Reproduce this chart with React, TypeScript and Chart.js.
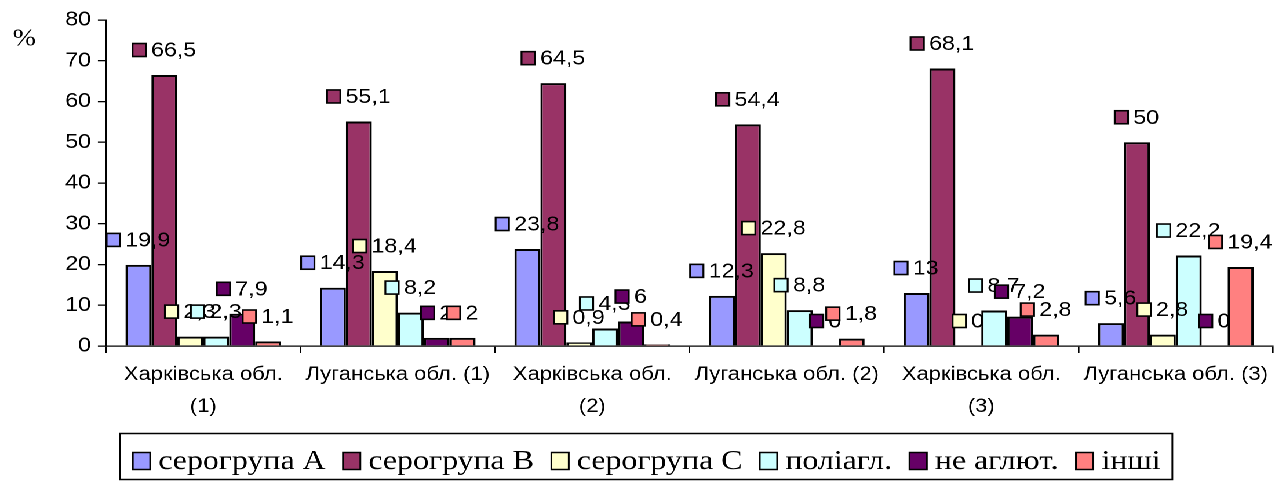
import React, { useEffect, useRef } from "react";
import { Chart, registerables } from "chart.js";

Chart.register(...registerables);

// ---- data ----
const categories: (string | string[])[] = [
  ["Харківська обл.", "(1)"],
  "Луганська обл. (1)",
  ["Харківська обл.", "(2)"],
  "Луганська обл. (2)",
  ["Харківська обл.", "(3)"],
  "Луганська обл. (3)",
];
const seriesNames = ["серогрупа А", "серогрупа В", "серогрупа С", "поліагл.", "не аглют.", "інші"];
const serogroupA = [19.9, 14.3, 23.8, 12.3, 13, 5.6];
const serogroupB = [66.5, 55.1, 64.5, 54.4, 68.1, 50];
const serogroupC = [2.3, 18.4, 0.9, 22.8, 0, 2.8];
const polyAggl = [2.3, 8.2, 4.3, 8.8, 8.7, 22.2];
const nonAggl = [7.9, 2, 6, 0, 7.2, 0];
const others = [1.1, 2, 0.4, 1.8, 2.8, 19.4];
const yTicks = [0, 10, 20, 30, 40, 50, 60, 70, 80];
const yUnit = "%";

// ---- styles ----
const colors = ["#9999FF", "#993366", "#FFFFCC", "#CCFFFF", "#660066", "#FF8080"];
const SANS = "'Liberation Sans', Arial, sans-serif";
const SERIF = "'Liberation Serif', 'Times New Roman', serif";
const BASE_W = 1100;
const STRETCH = 1275 / BASE_W;
const H = 482;

const fmt = (v: number) => String(v).replace(".", ",");

const valueLabels = {
  id: "valueLabels",
  afterDatasetsDraw(chart: any) {
    const ctx = chart.ctx;
    ctx.save();
    ctx.font = `20px ${SANS}`;
    ctx.textBaseline = "middle";
    ctx.textAlign = "left";
    const KW = 11.5, KH = 13, GAP = 4.5, LIFT = 25;
    chart.data.datasets.forEach((ds: any, di: number) => {
      const meta = chart.getDatasetMeta(di);
      meta.data.forEach((bar: any, i: number) => {
        const text = fmt(ds.data[i]);
        const tw = ctx.measureText(text).width;
        const total = KW + GAP + tw;
        const left = bar.x - total / 2;
        const cy = bar.y - LIFT;
        ctx.fillStyle = ds.backgroundColor;
        ctx.fillRect(left, cy - KH / 2, KW, KH);
        ctx.lineWidth = 1.6;
        ctx.strokeStyle = "#000";
        ctx.strokeRect(left, cy - KH / 2, KW, KH);
        ctx.fillStyle = "#000";
        ctx.fillText(text, left + KW + GAP, cy + 1);
      });
    });
    ctx.restore();
  },
};

const boxLegend = {
  id: "boxLegend",
  afterDraw(chart: any) {
    const ctx = chart.ctx;
    ctx.save();
    ctx.font = `27.5px ${SERIF}`;
    ctx.textBaseline = "middle";
    ctx.textAlign = "left";
    const SW = 15, SH = 17, SG = 7, IG = 15;
    const items = chart.data.datasets.map((ds: any) => ({
      text: ds.label,
      color: ds.backgroundColor,
      w: ctx.measureText(ds.label).width,
    }));
    const total =
      items.reduce((s: number, it: any) => s + SW + SG + it.w, 0) + IG * (items.length - 1);
    const center = 558;
    let x = center - total / 2;
    const cy = 461;
    const boxL = x - 11;
    const boxR = x + total + 10;
    ctx.lineWidth = 1.5;
    ctx.strokeStyle = "#000";
    ctx.strokeRect(boxL, 433.5, boxR - boxL, 46);
    items.forEach((it: any) => {
      ctx.fillStyle = it.color;
      ctx.fillRect(x, cy - SH / 2, SW, SH);
      ctx.lineWidth = 1.5;
      ctx.strokeRect(x, cy - SH / 2, SW, SH);
      ctx.fillStyle = "#000";
      ctx.fillText(it.text, x + SW + SG, cy + 1);
      x += SW + SG + it.w + IG;
    });
    // unit label
    ctx.font = `24px ${SERIF}`;
    ctx.textAlign = "center";
    ctx.fillText(yUnit, 21, 39);
    ctx.restore();
  },
};

export default function App() {
  const ref = useRef<HTMLCanvasElement | null>(null);
  useEffect(() => {
    if (!ref.current) return;
    const seriesData = [serogroupA, serogroupB, serogroupC, polyAggl, nonAggl, others];
    const chart = new Chart(ref.current, {
      type: "bar",
      data: {
        labels: categories as any,
        datasets: seriesData.map((d, i) => ({
          label: seriesNames[i],
          data: d,
          backgroundColor: colors[i],
          borderColor: "#000",
          borderWidth: 2,
          categoryPercentage: 0.8,
          barPercentage: 1,
        })),
      },
      options: {
        animation: false,
        responsive: true,
        maintainAspectRatio: false,
        devicePixelRatio: 2,
        layout: { padding: { top: 20, left: 0, right: 0, bottom: 0 } },
        plugins: { legend: { display: false }, tooltip: { enabled: false } },
        scales: {
          x: {
            grid: { display: true, drawOnChartArea: false, drawTicks: true, tickLength: 7, color: "#000", offset: true, lineWidth: 1.3 },
            border: { display: true, color: "#000", width: 1.3 },
            ticks: { color: "#000", font: { family: SANS, size: 19, lineHeight: 32 / 19 }, padding: 6, maxRotation: 0, autoSkip: false },
            afterFit: (s: any) => { s.height = H - 346; },
          },
          y: {
            min: 0,
            max: 80,
            afterBuildTicks: (s: any) => { s.ticks = yTicks.map((v) => ({ value: v })); },
            grid: { display: true, drawOnChartArea: false, drawTicks: true, tickLength: 7, color: "#000", lineWidth: 1.3 },
            border: { display: true, color: "#000", width: 1.3 },
            ticks: { color: "#000", font: { family: SANS, size: 20 }, padding: 6 },
            afterFit: (s: any) => { s.width = 106 / STRETCH; },
          },
        },
      },
      plugins: [valueLabels, boxLegend],
    });
    return () => chart.destroy();
  }, []);
  return (
    <div
      style={{
        position: "fixed",
        left: 0,
        top: 0,
        width: BASE_W,
        height: H,
        transform: `scaleX(${STRETCH})`,
        transformOrigin: "0 0",
        background: "#fff",
      }}
    >
      <canvas ref={ref} style={{ display: "block" }} />
    </div>
  );
}
